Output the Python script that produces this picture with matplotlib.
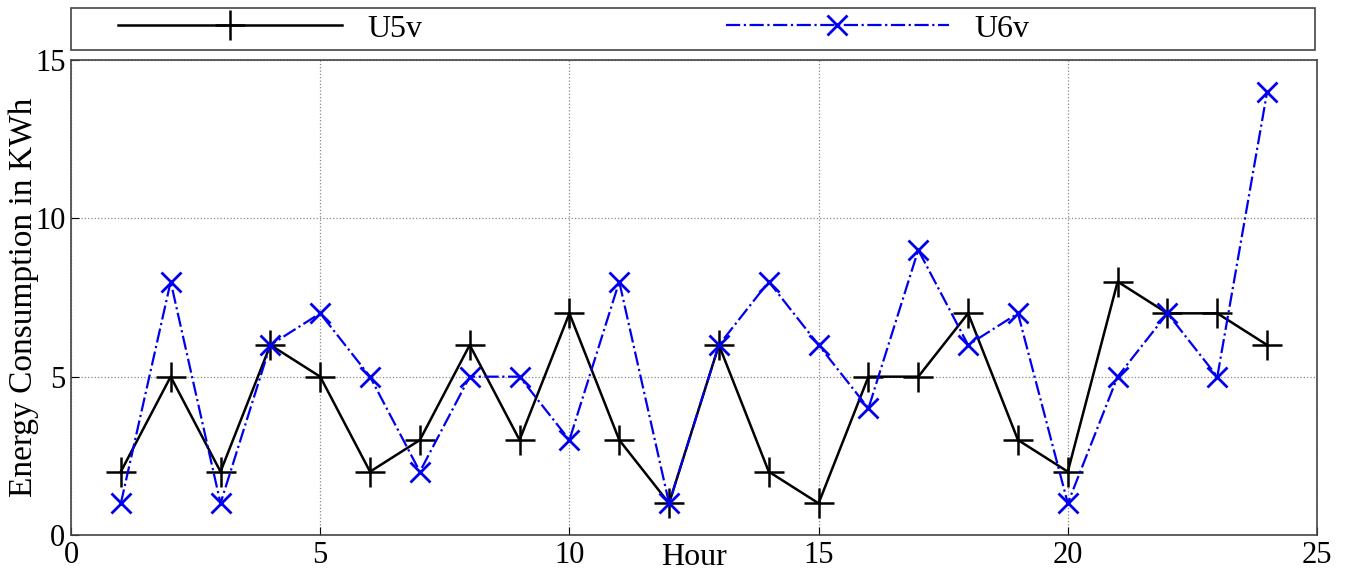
import matplotlib.pyplot as plt
import numpy as np

hours = np.arange(1, 25)
u5v = [2, 5, 2, 6, 5, 2, 3, 6, 3, 7, 3, 1, 6, 2, 1, 5, 5, 7, 3, 2, 8, 7, 7, 6]
u6v = [1, 8, 1, 6, 7, 5, 2, 5, 5, 3, 8, 1, 6, 8, 6, 4, 9, 6, 7, 1, 5, 7, 5, 14]
xticks = [0, 5, 10, 15, 20, 25]
yticks = [0, 5, 10, 15]

plt.rcParams['font.family'] = ['Liberation Serif', 'DejaVu Serif']

fig = plt.figure(figsize=(13.5, 5.76), dpi=100)
ax = fig.add_axes([71 / 1350, 1 - 535 / 576, 1246 / 1350, 475 / 576])

ax.plot(hours, u5v, color='black', lw=1.8, marker='+', ms=22, mew=1.8, label='U5v')
ax.plot(hours, u6v, color='#0000ee', lw=1.6, ls='-.', marker='x', ms=14, mew=2, label='U6v')

ax.set_xlim(0, 25)
ax.set_ylim(0, 15)
ax.set_xticks(xticks)
ax.set_yticks(yticks)
ax.tick_params(labelsize=22, direction='in', length=6, pad=4)
ax.grid(True, ls=':', color='#888888', lw=0.9)
for s in ax.spines.values():
    s.set_color('#444444')
    s.set_linewidth(1.2)

ax.set_ylabel('Energy Consumption in KWh', fontsize=24)
ax.yaxis.set_label_coords(-0.026, 0.5)
ax.set_xlabel('Hour', fontsize=23)
ax.xaxis.set_label_coords(0.5, -0.017)

leg = fig.legend(loc='center left', bbox_to_anchor=(118 / 1350, 1 - 29 / 576),
                 ncol=2, fontsize=23, frameon=False,
                 handlelength=7.0, handletextpad=0.8, columnspacing=9.5,
                 borderaxespad=0, borderpad=0)
fig.patches.append(plt.Rectangle((71 / 1350, 1 - 50 / 576), 1244 / 1350, 42 / 576,
                                 transform=fig.transFigure, fill=False,
                                 edgecolor='#444444', lw=1.2))

fig.savefig('out.png', dpi=100)
